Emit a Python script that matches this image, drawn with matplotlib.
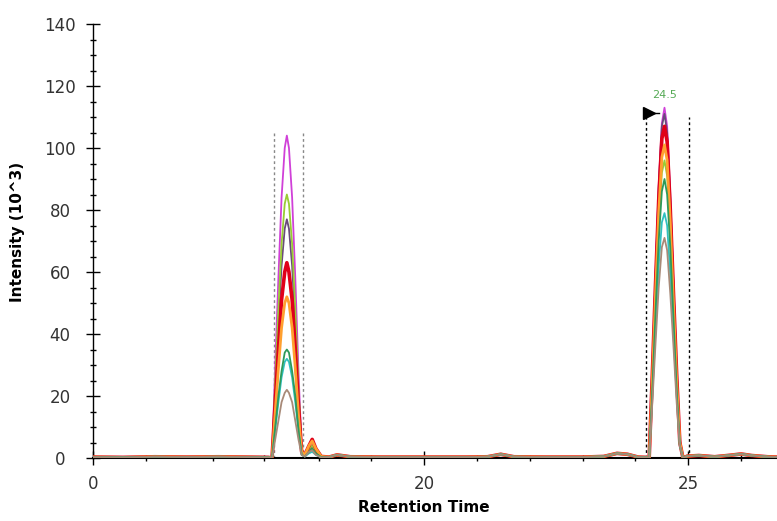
import numpy as np
import matplotlib.pyplot as plt

# retention-time samples (minutes)
t_pre = [13.73, 14.3, 14.9, 15.5, 16.1, 16.6, 17.05]
t_peak1 = [17.12, 17.18, 17.24, 17.30, 17.36, 17.40, 17.44, 17.50, 17.56, 17.62, 17.68]
t_tail1 = [17.74, 17.82, 17.88, 17.95, 18.05]
t_mid = [18.2, 18.35, 18.6, 19.2, 20.0, 20.8, 21.2, 21.45, 21.7, 22.3, 23.0, 23.4,
         23.65, 23.85, 24.05, 24.2]
t_peak2 = [24.26, 24.32, 24.38, 24.44, 24.50, 24.55, 24.60, 24.66, 24.72, 24.78, 24.84, 24.90]
t_post = [24.98, 25.2, 25.5, 25.8, 26.0, 26.2, 26.5, 26.68]

base_pre = [0.3, 0.2, 0.4, 0.3, 0.4, 0.3, 0.2]
base_mid = [0.3, 1.0, 0.4, 0.3, 0.3, 0.3, 0.4, 1.2, 0.4, 0.3, 0.3, 0.5, 1.5, 1.2, 0.3, 0.2]
base_post = [0.6, 0.8, 0.4, 0.9, 1.3, 0.8, 0.4, 0.3]

# drawing order (last one ends up on top)
names = ['magenta', 'purple', 'yellowgreen', 'red', 'orange', 'teal', 'green', 'tan']
colors = ['#d040d8', '#6a4a7a', '#99cc33', '#e0001a', '#ffa030', '#30c0c0', '#2e9a5a', '#a88a78']
widths = [1.3, 1.3, 1.3, 2.6, 2.0, 1.3, 1.3, 1.3]

peak1 = {
    'magenta':     [0, 30, 58, 84, 100, 104, 100, 84, 58, 28, 3],
    'purple':      [0, 22, 43, 62, 74, 77, 74, 62, 43, 21, 2],
    'yellowgreen': [0, 25, 48, 69, 82, 85, 82, 69, 48, 23, 3],
    'teal':        [0, 9, 18, 26, 31, 32, 31, 26, 18, 9, 1],
    'green':       [0, 10, 20, 28, 34, 35, 34, 28, 20, 9, 1],
    'tan':         [0, 6, 12, 18, 21, 22, 21, 18, 12, 6, 1],
    'orange':      [0, 15, 29, 42, 50, 52, 50, 42, 29, 14, 2],
    'red':         [0, 18, 35, 51, 60, 63, 60, 51, 35, 17, 2],
}
tail1 = {
    'magenta':     [0.5, 3, 4, 2, 0.3],
    'purple':      [0.5, 2.5, 3.5, 1.5, 0.3],
    'yellowgreen': [0.5, 3, 4, 2, 0.3],
    'teal':        [0.5, 1.5, 2, 1, 0.2],
    'green':       [0.5, 2, 3, 1.5, 0.3],
    'tan':         [0.5, 2, 2.5, 1, 0.2],
    'orange':      [1, 4, 5.5, 3, 0.5],
    'red':         [1, 4, 6, 3, 0.5],
}
peak2 = {
    'magenta':     [0, 28, 59, 88, 108, 113, 107, 85, 56, 28, 6, 0],
    'purple':      [0, 28, 58, 87, 107, 111, 105, 83, 55, 28, 6, 0],
    'yellowgreen': [0, 24, 50, 75, 92, 96, 91, 72, 48, 24, 5, 0],
    'teal':        [0, 20, 41, 62, 76, 79, 75, 59, 40, 20, 4, 0],
    'green':       [0, 22, 47, 70, 86, 90, 85, 68, 45, 22, 4, 0],
    'tan':         [0, 18, 37, 55, 68, 71, 67, 53, 36, 18, 4, 0],
    'orange':      [0, 25, 53, 79, 97, 101, 96, 76, 50, 25, 5, 0],
    'red':         [0, 27, 56, 83, 103, 107, 102, 80, 53, 27, 5, 0],
}

x_ticks = [13.73, 20, 25]
x_ticklabels = ['0', '20', '25']
x_minor = [14.73, 16.0, 16.97, 18, 19, 21, 22, 23, 24, 26]
win1 = [17.16, 17.71]
win2 = [24.20, 25.02]
apex_label = '24.5'

fig = plt.figure(figsize=(7.77, 5.21), dpi=100)
ax = fig.add_axes([93 / 777, 63 / 521, 1 - 93 / 777, 434 / 521])

t_all = t_pre + t_peak1 + t_tail1 + t_mid + t_peak2 + t_post
for n, c, w in zip(names, colors, widths):
    y = base_pre + peak1[n] + tail1[n] + base_mid + peak2[n] + base_post
    ax.plot(t_all, y, color=c, lw=w, solid_joinstyle='round', zorder=3)

# integration windows
for xv in win1:
    ax.plot([xv, xv], [0, 105], color='#888888', lw=1, ls=(0, (2, 2)), zorder=2)
ax.plot([win2[0], win2[0]], [0, 111.5], color='black', lw=1, ls=(0, (2, 2)), zorder=2)
ax.plot([win2[1], win2[1]], [0, 110], color='black', lw=1, ls=(0, (2, 2)), zorder=2)
ax.plot([win2[0] + 0.05, 24.45], [111.3, 111.3], color='black', lw=1, zorder=4)
ax.plot([win2[0] + 0.06], [111.3], marker='>', color='black', markersize=8, zorder=4)
ax.text(24.55, 115.5, apex_label, color='#55aa55', fontsize=8, ha='center', va='bottom')

ax.set_xlim(13.73, 26.68)
ax.set_ylim(0, 140)
ax.set_xticks(x_ticks)
ax.set_xticklabels(x_ticklabels)
ax.set_xticks(x_minor, minor=True)
ax.set_yticks(np.arange(0, 141, 20))
ax.set_yticks(np.arange(0, 141, 5), minor=True)

for s in ['top', 'right']:
    ax.spines[s].set_visible(False)
ax.spines['left'].set_linewidth(1.0)
ax.spines['bottom'].set_linewidth(1.5)

ax.tick_params(axis='y', which='major', direction='inout', length=10, width=1,
               pad=18.8, labelsize=12, labelcolor='#333333')
ax.tick_params(axis='y', which='minor', direction='inout', length=5, width=1)
ax.tick_params(axis='x', which='major', direction='inout', length=9.4, width=1,
               pad=7.5, labelsize=12, labelcolor='#333333')
ax.tick_params(axis='x', which='minor', direction='inout', length=5, width=1)
for lab in ax.get_yticklabels():
    lab.set_horizontalalignment('center')

fig.text(424 / 777, 1 - 508 / 521, 'Retention Time', fontsize=11, fontweight='bold',
         ha='center', va='center')
fig.text(18 / 777, 1 - 232 / 521, 'Intensity (10^3)', fontsize=11, fontweight='bold',
         ha='center', va='center', rotation=90)

fig.savefig('out.png', dpi=100)
